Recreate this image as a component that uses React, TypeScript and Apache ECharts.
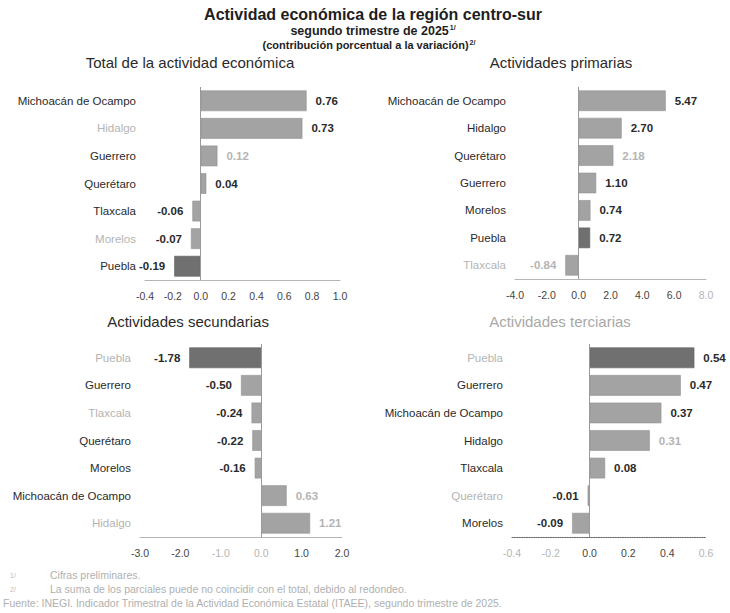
import React, { useEffect, useRef } from "react";
import * as echarts from "echarts";

const totalCats = ["Michoacán de Ocampo", "Hidalgo", "Guerrero", "Querétaro", "Tlaxcala", "Morelos", "Puebla"];
const totalVals = [0.76, 0.73, 0.12, 0.04, -0.06, -0.07, -0.19];

const primCats = ["Michoacán de Ocampo", "Hidalgo", "Querétaro", "Guerrero", "Morelos", "Puebla", "Tlaxcala"];
const primVals = [5.47, 2.7, 2.18, 1.1, 0.74, 0.72, -0.84];

const secCats = ["Puebla", "Guerrero", "Tlaxcala", "Querétaro", "Morelos", "Michoacán de Ocampo", "Hidalgo"];
const secVals = [-1.78, -0.5, -0.24, -0.22, -0.16, 0.63, 1.21];

const terCats = ["Puebla", "Guerrero", "Michoacán de Ocampo", "Hidalgo", "Tlaxcala", "Querétaro", "Morelos"];
const terVals = [0.54, 0.47, 0.37, 0.31, 0.08, -0.01, -0.09];

// faded (scan-like) labels
const totalFadedCats = ["Hidalgo", "Morelos"];
const primFadedCats = ["Tlaxcala"];
const secFadedCats = ["Puebla", "Tlaxcala", "Hidalgo"];
const terFadedCats = ["Puebla", "Querétaro"];

const totalFadedVals = [2];
const primFadedVals = [2, 6];
const secFadedVals = [5, 6];
const terFadedVals = [3];

const totalFadedTicks = [] as number[];
const primFadedTicks = [8];
const secFadedTicks = [-1, 0];
const terFadedTicks = [-0.4, -0.2, 0.6];

const FONT = "'Liberation Sans', Arial, sans-serif";
const BAR = "#a3a3a3";
const BAR_DARK = "#707070";
const TXT = "#2a2a2a";
const FADED = "#b4b4b4";

function fmt(v: number) {
  if (Math.abs(v) < 1e-9) return "0.0";
  return v.toFixed(1);
}

function makePanel(
  idx: number,
  cats: string[],
  vals: number[],
  grid: { left: number; top: number; width: number; height: number },
  min: number,
  max: number,
  interval: number,
  fadedCats: string[],
  fadedVals: number[],
  fadedTicks: number[],
  dottedAxis: boolean
) {
  const gridOpt = { left: grid.left, top: grid.top, width: grid.width, height: grid.height, containLabel: false };
  const xAxis = {
    type: "value",
    gridIndex: idx,
    min,
    max,
    interval,
    splitLine: { show: false },
    axisTick: { show: false },
    axisLine: {
      show: true,
      onZero: false,
      lineStyle: { color: dottedAxis ? "#666" : "#b5b5b5", width: dottedAxis ? 1.2 : 1, type: dottedAxis ? "dotted" : "solid" },
    },
    axisLabel: {
      fontFamily: FONT,
      fontSize: 10.5,
      margin: 10,
      formatter: (v: number) => fmt(v),
      color: (v: any) => {
        const n = Number(v);
        return fadedTicks.some((t) => Math.abs(t - n) < 1e-6) ? FADED : "#444";
      },
    },
  };
  const yAxis = {
    type: "category",
    gridIndex: idx,
    data: cats,
    inverse: true,
    axisLine: { show: false },
    axisTick: { show: false },
    axisLabel: {
      fontFamily: FONT,
      fontSize: 11.5,
      margin: 9,
      color: (v: any) => (fadedCats.includes(v) ? FADED : TXT),
    },
  };
  const series = {
    type: "bar",
    xAxisIndex: idx,
    yAxisIndex: idx,
    barCategoryGap: "25%",
    data: vals.map((v, i) => ({
      value: v,
      itemStyle: {
        color: cats[i] === "Puebla" ? BAR_DARK : BAR,
        borderColor: cats[i] === "Puebla" ? "#5f5f5f" : "#929292",
        borderWidth: 0.6,
      },
      label: {
        show: true,
        position: v >= 0 ? "right" : "left",
        distance: 9,
        formatter: () => v.toFixed(2),
        fontFamily: FONT,
        fontSize: 11.5,
        fontWeight: "bold",
        color: fadedVals.includes(i) ? FADED : TXT,
      },
    })),
    markLine: {
      silent: true,
      symbol: "none",
      label: { show: false },
      lineStyle: { color: "#9a9a9a", width: 1, type: "solid" },
      data: [{ xAxis: 0 }],
    },
  };
  return { gridOpt, xAxis, yAxis, series };
}

export default function App() {
  const ref = useRef<HTMLDivElement>(null);
  useEffect(() => {
    if (!ref.current) return;
    const chart = echarts.init(ref.current, null, { renderer: "svg" });
    const panels = [
      makePanel(0, totalCats, totalVals, { left: 145, top: 87, width: 195, height: 193 }, -0.4, 1.0, 0.2, totalFadedCats, totalFadedVals, totalFadedTicks, false),
      makePanel(1, primCats, primVals, { left: 515, top: 87, width: 191, height: 192 }, -4, 8, 2, primFadedCats, primFadedVals, primFadedTicks, false),
      makePanel(2, secCats, secVals, { left: 140, top: 344, width: 202, height: 193 }, -3, 2, 1, secFadedCats, secFadedVals, secFadedTicks, false),
      makePanel(3, terCats, terVals, { left: 512, top: 344, width: 194, height: 193 }, -0.4, 0.6, 0.2, terFadedCats, terFadedVals, terFadedTicks, true),
    ];
    const text = (x: number, y: number, t: string, style: any) => ({
      type: "text",
      x,
      y,
      silent: true,
      style: { text: t, fontFamily: FONT, fill: TXT, textVerticalAlign: "middle", ...style },
    });
    const sup = { fontSize: 7, fontWeight: "bold", verticalAlign: "top", padding: [0, 0, 5, 1], fontFamily: FONT, color: "#1e1e1e" };
    chart.setOption({
      animation: false,
      backgroundColor: "#ffffff",
      title: [
        {
          text: "Actividad económica de la región centro-sur",
          left: 368,
          top: 0,
          textAlign: "center",
          textStyle: { fontFamily: FONT, fontSize: 16, fontWeight: "bold", color: "#1e1e1e", lineHeight: 18 },
        },
        {
          text: "segundo trimestre de 2025{s|1/}",
          left: 368,
          top: 19,
          textAlign: "center",
          textStyle: { fontFamily: FONT, fontSize: 12.5, fontWeight: "bold", color: "#1e1e1e", rich: { s: sup } },
        },
        {
          text: "(contribución porcentual a la variación){s|2/}",
          left: 364,
          top: 34,
          textAlign: "center",
          textStyle: { fontFamily: FONT, fontSize: 11, fontWeight: "bold", color: "#1e1e1e", rich: { s: sup } },
        },
        { text: "Total de la actividad económica", left: 185, top: 50, textAlign: "center", textStyle: { fontFamily: FONT, fontSize: 15, fontWeight: "normal", color: "#2a2a2a" } },
        { text: "Actividades primarias", left: 556, top: 50, textAlign: "center", textStyle: { fontFamily: FONT, fontSize: 15, fontWeight: "normal", color: "#2a2a2a" } },
        { text: "Actividades secundarias", left: 183, top: 309, textAlign: "center", textStyle: { fontFamily: FONT, fontSize: 15, fontWeight: "normal", color: "#2a2a2a" } },
        { text: "Actividades terciarias", left: 555, top: 309, textAlign: "center", textStyle: { fontFamily: FONT, fontSize: 15, fontWeight: "normal", color: "#a8a8a8" } },
      ],
      grid: panels.map((p) => p.gridOpt),
      xAxis: panels.map((p) => p.xAxis),
      yAxis: panels.map((p) => p.yAxis),
      series: panels.map((p) => p.series),
      graphic: [
        text(10, 575, "1/", { fontSize: 7, fill: "#bcbcbc" }),
        text(50, 575, "Cifras preliminares.", { fontSize: 10.5, fill: "#b0b0b0" }),
        text(10, 589, "2/", { fontSize: 7, fill: "#bcbcbc" }),
        text(50, 589, "La suma de los parciales puede no coincidir con el total, debido al redondeo.", { fontSize: 10.5, fill: "#b0b0b0" }),
        text(3, 603, "Fuente: INEGI. Indicador Trimestral de la Actividad Económica Estatal (ITAEE), segundo trimestre de 2025.", { fontSize: 10.5, fill: "#b0b0b0" }),
      ],
    });
    return () => chart.dispose();
  }, []);
  return <div ref={ref} style={{ position: "fixed", left: 0, top: 0, width: 730, height: 613, background: "#fff" }} />;
}
